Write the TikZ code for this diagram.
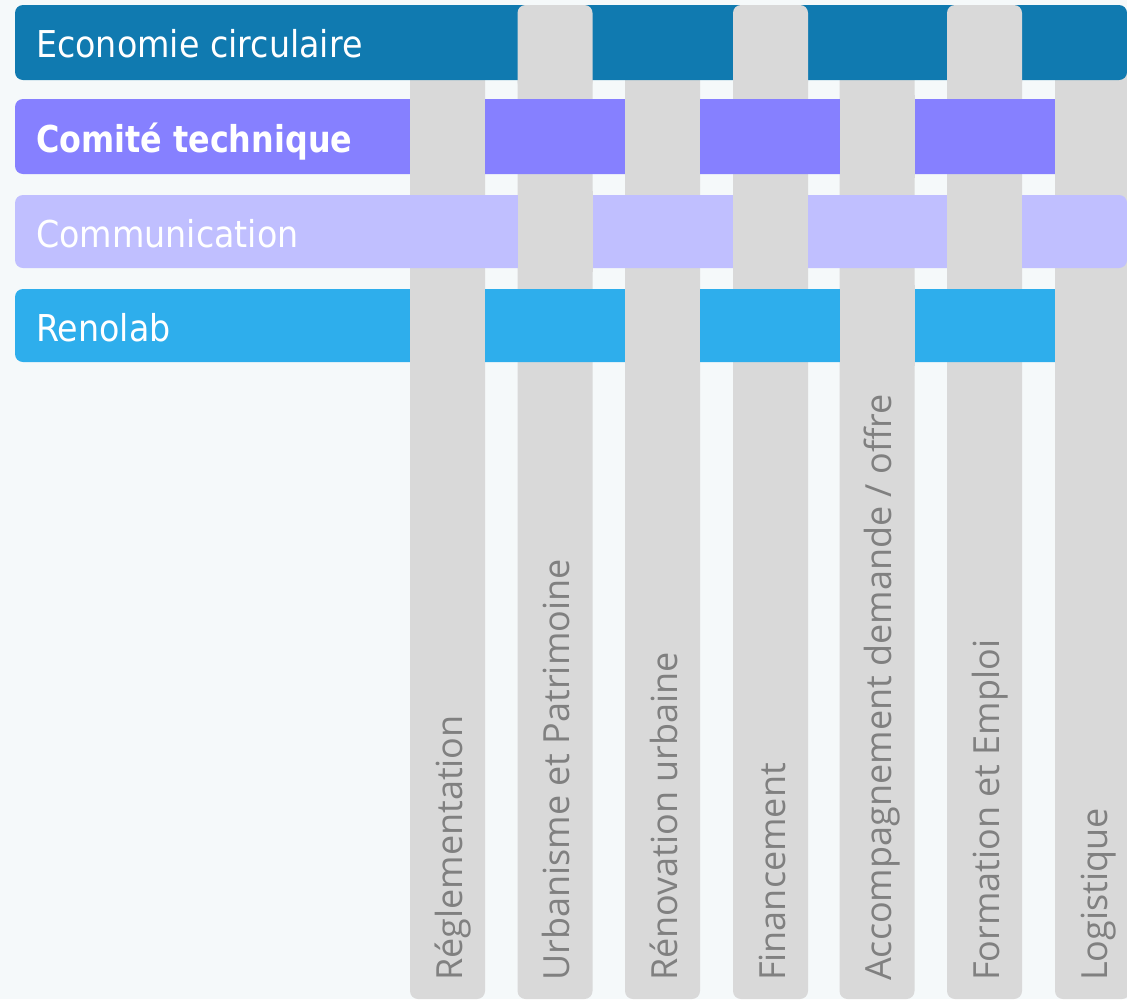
\documentclass[tikz,border=0pt]{standalone}
\usepackage{fontspec}
\setmainfont{Open Sans}
\newfontfamily\barfont{DejaVu Sans}[FakeStretch=0.9]
\newfontfamily\barboldfont{DejaVu Sans Bold}[FakeStretch=0.86]
\usetikzlibrary{calc}

\definecolor{ecoblue}{HTML}{107AB0}
\definecolor{cotviolet}{HTML}{8680FF}
\definecolor{commlilac}{HTML}{C0BFFF}
\definecolor{renoblue}{HTML}{2EAEEC}
\definecolor{colgray}{HTML}{D9D9D9}
\definecolor{labgray}{HTML}{808080}
\definecolor{bgpale}{HTML}{F5F9FA}

\tikzset{
  bar/.style={rounded corners=8pt},
  col/.style={fill=colgray, rounded corners=8pt},
  over/.style={fill=colgray},
  barlabel/.style={anchor=base west, inner sep=0pt, text=white,
    font=\barfont\fontsize{37}{44}\selectfont},
  collabel/.style={anchor=base west, rotate=90, inner sep=0pt, text=labgray,
    font=\fontsize{36}{43}\selectfont},
}

\begin{document}
\begin{tikzpicture}[x=1pt, y=-1pt, line cap=round, line join=round]
    % page
    \fill[bgpale] (0,0) rectangle (1127,999);
    \useasboundingbox (0,0) rectangle (1127,999);

    % column width
    \def\w{75}

    %--- gray columns, underneath
    \fill[col] (410,70)   rectangle ++(\w,929);
    \fill[col] (517.5,5)  rectangle ++(\w,994);
    \fill[col] (625,70)   rectangle ++(\w,929);
    \fill[col] (733,5)    rectangle ++(\w,994);
    \fill[col] (839.5,70) rectangle ++(\w,929);
    \fill[col] (947,5)    rectangle ++(\w,994);
    \fill[col] (1055,70)  rectangle ++(\w,929);

    %--- horizontal bars
    \fill[ecoblue, bar]   (15,5)   rectangle (1127,80);
    \fill[cotviolet, bar] (15,99)  rectangle (1127,174);
    \fill[commlilac, bar] (15,195) rectangle (1127,268);
    \fill[renoblue, bar]  (15,289) rectangle (1127,362);

    %--- columns passing over the bars
    % over Economie circulaire
    \fill[col] (517.5,5) rectangle ++(\w,85);
    \fill[col] (733,5)   rectangle ++(\w,85);
    \fill[col] (947,5)   rectangle ++(\w,85);
    % over Comite technique
    \fill[over] (410,95)   rectangle ++(\w,83);
    \fill[over] (625,95)   rectangle ++(\w,83);
    \fill[over] (839.5,95) rectangle ++(\w,83);
    \fill[over] (1055,95)  rectangle ++(\w,83);
    % over Communication
    \fill[over] (517.5,191) rectangle ++(\w,81);
    \fill[over] (733,191)   rectangle ++(\w,81);
    \fill[over] (947,191)   rectangle ++(\w,81);
    % over Renolab
    \fill[over] (410,285)   rectangle ++(\w,81);
    \fill[over] (625,285)   rectangle ++(\w,81);
    \fill[over] (839.5,285) rectangle ++(\w,81);
    \fill[over] (1055,285)  rectangle ++(\w,81);

    %--- bar labels
    \node[barlabel] (eco)     at (36,57)  {Economie circulaire};
    \node[barlabel, font=\barboldfont\fontsize{37}{44}\selectfont]
                    (cotech)  at (36,152) {Comité technique};
    \node[barlabel] (comm)    at (36,247) {Communication};
    \node[barlabel] (renolab) at (36,341) {Renolab};

    %--- column labels, read upwards
    \node[collabel] (regl)   at (462,981)    {Réglementation};
    \node[collabel] (urba)   at (569.5,981)  {Urbanisme et Patrimoine};
    \node[collabel] (renov)  at (677,981)    {Rénovation urbaine};
    \node[collabel] (fin)    at (785,981)    {Financement};
    \node[collabel] (accomp) at (891.5,981)  {Accompagnement demande / offre};
    \node[collabel] (form)   at (999,981)    {Formation et Emploi};
    \node[collabel] (logi)   at (1107,981)   {Logistique};
  \end{tikzpicture}
\end{document}
